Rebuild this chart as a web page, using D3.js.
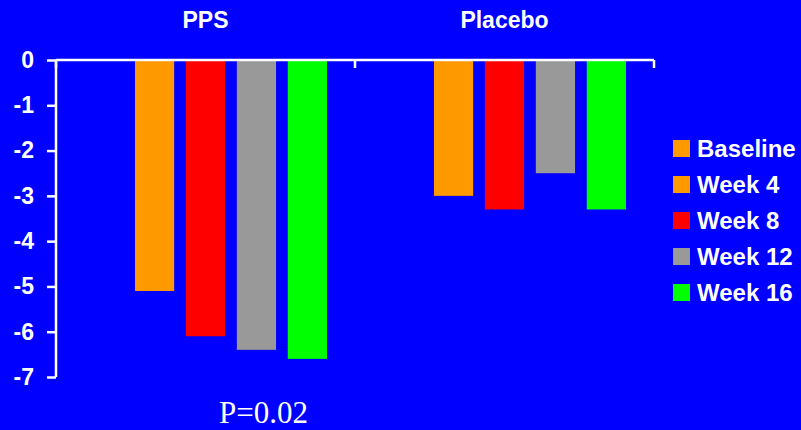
<!DOCTYPE html>
<html><head><meta charset="utf-8">
<script src="https://cdn.jsdelivr.net/npm/d3@7"></script>
<style>html,body{margin:0;padding:0;background:#0000FF;}svg{display:block;}</style>
</head><body>
<svg id="c" width="801" height="430"></svg>
<script>
const groups = ["PPS", "Placebo"];
const seriesNames = ["Baseline", "Week 4", "Week 8", "Week 12", "Week 16"];
const seriesColors = ["#FF9900", "#FF9900", "#FF0000", "#999999", "#00FF00"];
const ppsValues = [0, -5.1, -6.1, -6.4, -6.6];
const placeboValues = [0, -3.0, -3.3, -2.5, -3.3];
const yTicks = [0, -1, -2, -3, -4, -5, -6, -7];
const pValueLabel = "P=0.02";

(function () {
const values = { "PPS": ppsValues, "Placebo": placeboValues };
const svg = d3.select("#c");
const W = 801, H = 430;
svg.append("rect").attr("width", W).attr("height", H).attr("fill", "#0000FF");

const mLeft = 56, mRight = 654, mTop = 60, mBottom = 377;
const x0 = d3.scaleBand().domain(groups).range([mLeft, mRight]).paddingInner(0).paddingOuter(0);
const x1 = d3.scaleBand().domain(seriesNames).range([0, x0.bandwidth()]).paddingInner(0.23).paddingOuter(0.55);
const y = d3.scaleLinear().domain([-7, 0]).range([mBottom, mTop]);
const color = d3.scaleOrdinal().domain(seriesNames).range(seriesColors);

const font = "Arial, 'Liberation Sans', Helvetica, sans-serif";

// bars
const g = svg.append("g");
groups.forEach(grp => {
  g.selectAll(null).data(seriesNames.map((s, i) => ({ s, v: values[grp][i] })))
    .enter().append("rect")
    .attr("x", d => x0(grp) + x1(d.s))
    .attr("width", x1.bandwidth())
    .attr("y", d => y(Math.max(0, d.v)))
    .attr("height", d => Math.abs(y(d.v) - y(0)))
    .attr("fill", d => color(d.s));
});

// y axis
const yAxis = svg.append("g").attr("transform", `translate(${mLeft},0)`)
  .call(d3.axisLeft(y).tickValues(yTicks).tickSize(9).tickPadding(13).tickFormat(d => String(d)));
yAxis.select(".domain").attr("stroke", "#fff").attr("stroke-width", 2.5)
  .attr("d", `M0,${y(0)}V${y(-7)}`);
yAxis.selectAll(".tick line").attr("stroke", "#fff").attr("stroke-width", 2.5);
yAxis.selectAll(".tick text").attr("fill", "#fff").attr("font-family", font)
  .attr("font-weight", "bold").attr("font-size", 23);

// x axis line + ticks at group boundaries
const xg = svg.append("g");
xg.append("line").attr("x1", x0.range()[0]).attr("x2", x0.range()[1])
  .attr("y1", y(0)).attr("y2", y(0)).attr("stroke", "#fff").attr("stroke-width", 2.5);
const bounds = [x0.range()[0]].concat(groups.map(gp => x0(gp) + x0.bandwidth()));
xg.selectAll(null).data(bounds).enter().append("line")
  .attr("x1", d => d).attr("x2", d => d)
  .attr("y1", y(0)).attr("y2", y(0) + 8)
  .attr("stroke", "#fff").attr("stroke-width", 2.5);

// group titles
svg.selectAll(null).data(groups).enter().append("text")
  .attr("x", d => x0(d) + x0.bandwidth() / 2).attr("y", 28)
  .attr("text-anchor", "middle").attr("fill", "#fff")
  .attr("font-family", font).attr("font-weight", "bold").attr("font-size", 23)
  .text(d => d);

// legend
const lg = svg.append("g").attr("transform", "translate(673,140)");
const items = lg.selectAll(null).data(seriesNames).enter().append("g")
  .attr("transform", (d, i) => `translate(0,${i * 36})`);
items.append("rect").attr("width", 17).attr("height", 17).attr("fill", d => color(d));
items.append("text").attr("x", 24).attr("y", 8.5).attr("dy", "0.36em")
  .attr("fill", "#fff").attr("font-family", font).attr("font-weight", "bold").attr("font-size", 24)
  .text(d => d);

// p-value
svg.append("text").attr("x", x0("PPS") + x0.bandwidth() / 2 + 58).attr("y", 423)
  .attr("text-anchor", "middle").attr("fill", "#fff")
  .attr("font-family", "'Times New Roman', 'Liberation Serif', serif").attr("font-size", 31)
  .text(pValueLabel);
})();
</script>
</body></html>
